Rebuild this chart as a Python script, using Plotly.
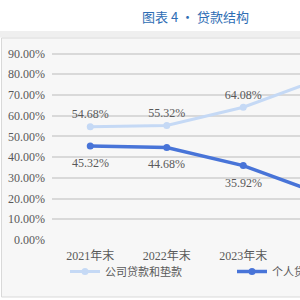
import plotly.graph_objects as go

categories = ["2021年末", "2022年末", "2023年末", "2024年末"]
corp_vals = [54.68, 55.32, 64.08, 77.6]
pers_vals = [45.32, 44.68, 35.92, 22.4]
corp_labels = ["54.68%", "55.32%", "64.08%", ""]
pers_labels = ["45.32%", "44.68%", "35.92%", ""]
tick_vals = [0, 10, 20, 30, 40, 50, 60, 70, 80, 90]
tick_text = ["0.00%", "10.00%", "20.00%", "30.00%", "40.00%", "50.00%", "60.00%", "70.00%", "80.00%", "90.00%"]

NUMFONT = "Liberation Serif, Noto Sans CJK SC"
GRAY = "#595959"
LIGHT = "#C5D9F5"
DARK = "#4874D8"


def px_x(p):
    return (p - 52) / 248.0


def px_y(p):
    return (240 - p) / 202.0


xs = list(range(len(categories)))

fig = go.Figure()
fig.add_trace(go.Scatter(
    x=xs, y=corp_vals, name="公司贷款和垫款",
    mode="lines+markers+text", text=corp_labels, textposition="top center",
    line=dict(color=LIGHT, width=3), marker=dict(color=LIGHT, size=7),
    textfont=dict(family=NUMFONT, size=12, color=GRAY), cliponaxis=True,
    legend="legend",
))
fig.add_trace(go.Scatter(
    x=xs, y=pers_vals, name="个人贷款",
    mode="lines+markers",
    line=dict(color=DARK, width=3.5), marker=dict(color=DARK, size=7),
    cliponaxis=True, legend="legend2",
))

annotations = [dict(text="图表 4 • 贷款结构", xref="paper", yref="paper",
                    x=px_x(195), y=px_y(17), xanchor="center", yanchor="middle",
                    showarrow=False,
                    font=dict(family="Noto Sans CJK SC", size=13, color="#2E6DB4"))]
for xi, yi, lab in zip(xs, pers_vals, pers_labels):
    if lab:
        annotations.append(dict(x=xi, y=yi, xref="x", yref="y", text=lab, showarrow=False,
                                yshift=-17, font=dict(family=NUMFONT, size=12, color=GRAY)))

shapes = [
    dict(type="rect", xref="paper", yref="paper", x0=px_x(-5), x1=px_x(310), y0=px_y(37.5), y1=px_y(31),
         fillcolor="#EFEFEF", line=dict(width=0), layer="below"),
    dict(type="rect", xref="paper", yref="paper", x0=px_x(1.5), x1=px_x(320), y0=px_y(297), y1=px_y(38),
         fillcolor="#F7F7F7", line=dict(color="#D9D9D9", width=1), layer="below"),
]

legend_common = dict(orientation="h", yanchor="top", xanchor="left",
                     font=dict(family="Noto Sans CJK SC", size=11, color=GRAY),
                     bgcolor="rgba(0,0,0,0)", itemwidth=30)

fig.update_layout(
    width=300, height=300,
    margin=dict(l=52, r=0, t=38, b=60, autoexpand=False),
    paper_bgcolor="white", plot_bgcolor="rgba(0,0,0,0)",
    shapes=shapes,
    showlegend=True,
    legend=dict(x=px_x(65), y=px_y(257), **legend_common),
    legend2=dict(x=px_x(232), y=px_y(257), **legend_common),
    xaxis=dict(range=[-0.5, -0.5 + 248 / 76.5], tickmode="array",
               tickvals=xs, ticktext=categories,
               showgrid=False, zeroline=False, showline=False, ticks="",
               ticklabelstandoff=7,
               tickfont=dict(family=NUMFONT, size=12, color=GRAY)),
    yaxis=dict(range=[0, 97.5], tickmode="array", tickvals=tick_vals, ticktext=tick_text,
               showgrid=True, gridcolor="#D9D9D9", gridwidth=1.5, zeroline=False,
               ticks="", ticklabelstandoff=6,
               tickfont=dict(family=NUMFONT, size=12, color=GRAY)),
    annotations=annotations,
)

fig.write_html("out.html")
